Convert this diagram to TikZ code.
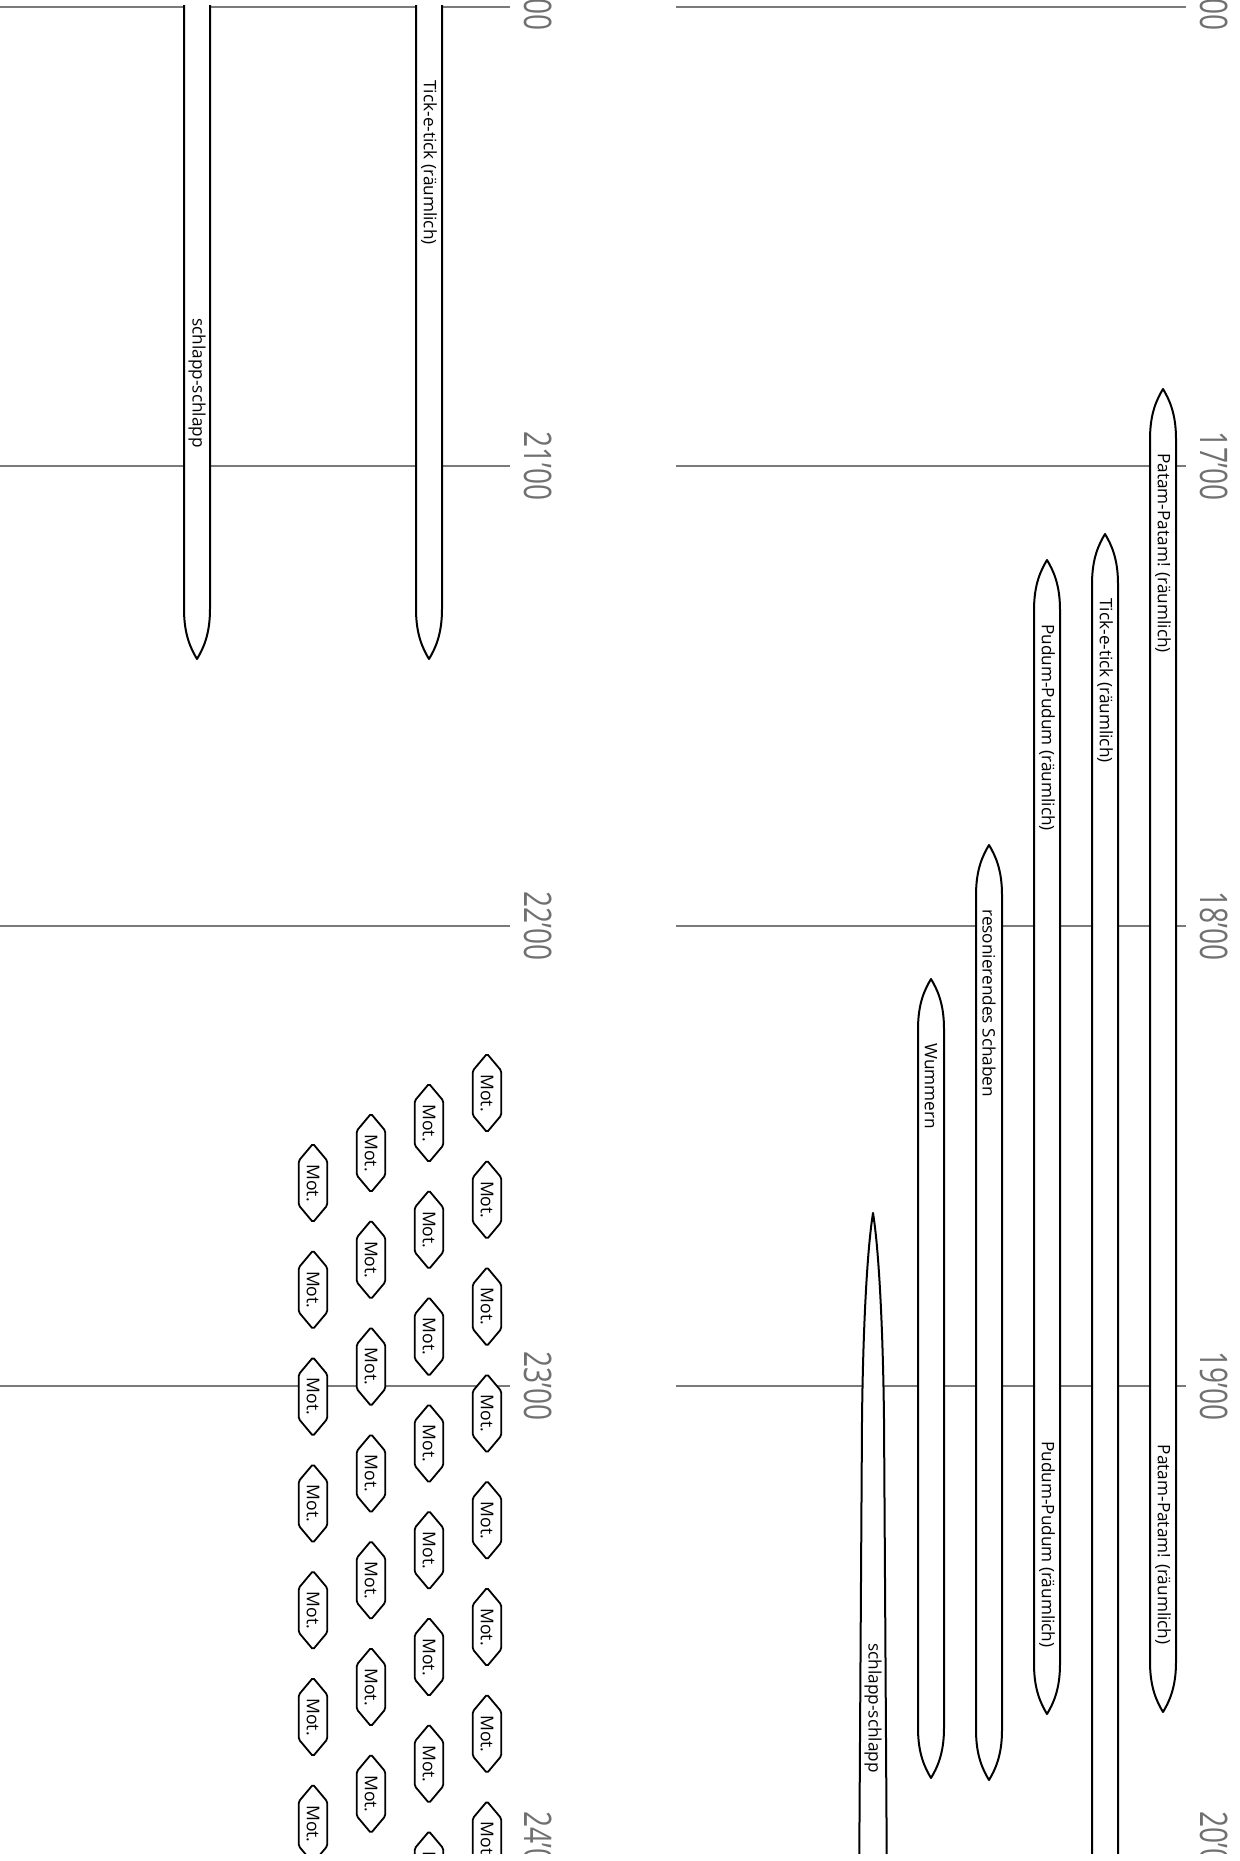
\documentclass[tikz,border=0pt]{standalone}
\usepackage{fontspec}
\setmainfont{Open Sans}
\usetikzlibrary{shapes.symbols}
\definecolor{gridc}{HTML}{7A7A7A}
\definecolor{timec}{HTML}{707070}
\newcommand{\tlab}[1]{\scalebox{0.74}[1]{#1}}
\begin{document}
\begin{tikzpicture}[x=0.5pt,y=-0.5pt,
  grid/.style={draw=gridc, line width=0.7pt},
  stripe/.style={draw=black, fill=white, line width=1pt, line join=round},
  lbl/.style={font=\fontsize{8.6}{10}\selectfont, inner sep=0pt, rotate=-90},
  timelbl/.style={font=\fontsize{19}{21}\selectfont, text=timec, rotate=-90, inner sep=0pt},
  mot/.style={signal, signal to=east and west, signal pointer angle=80, draw=black, fill=white,
    line width=0.9pt, rounded corners=0.8pt, font=\fontsize{8.8}{10}\selectfont,
    inner xsep=1.8pt, inner ysep=3.9pt, rotate=-90}
]
\useasboundingbox (0,0) rectangle (1240,1861);
\begin{scope}
\clip (-5,0) rectangle (1245,1853);
% grid lines
\foreach \yy in {7,466,926,1386} {
  \draw[grid] (0,\yy) -- (510,\yy);
  \draw[grid] (676,\yy) -- (1186,\yy);
}
% time labels
\node[timelbl] (t16) at (1214,-4) {\tlab{16’00}};
\node[timelbl] (t17) at (1214,466) {\tlab{17’00}};
\node[timelbl] (t18) at (1214,926) {\tlab{18’00}};
\node[timelbl] (t19) at (1214,1386) {\tlab{19’00}};
\node[timelbl] (t20) at (1214,1846) {\tlab{20’00}};
\node[timelbl] (t20b) at (538,-4) {\tlab{20’00}};
\node[timelbl] (t21) at (538,466) {\tlab{21’00}};
\node[timelbl] (t22) at (538,926) {\tlab{22’00}};
\node[timelbl] (t23) at (538,1386) {\tlab{23’00}};
\node[timelbl] (t24) at (538,1846) {\tlab{24’00}};
\begin{scope}
\clip (-5,6) rectangle (1245,1853);
% ---------- right panel ----------
% Patam (both tips)
\path[stripe] (1150,439) .. controls (1150,413) and (1157,399) .. (1163,389)
  .. controls (1169,399) and (1176,413) .. (1176,439) -- (1176,1662)
  .. controls (1176,1688) and (1169,1702) .. (1163,1712)
  .. controls (1157,1702) and (1150,1688) .. (1150,1662) -- cycle;
% Tick-e-tick right (open bottom)
\path[stripe] (1092,1900) -- (1092,584) .. controls (1092,558) and (1099,544) .. (1105,534)
  .. controls (1111,544) and (1118,558) .. (1118,584) -- (1118,1900);
% Pudum
\path[stripe] (1034,610) .. controls (1034,584) and (1041,570) .. (1047,560)
  .. controls (1053,570) and (1060,584) .. (1060,610) -- (1060,1664)
  .. controls (1060,1690) and (1053,1704) .. (1047,1714)
  .. controls (1041,1704) and (1034,1690) .. (1034,1664) -- cycle;
% resonierendes Schaben
\path[stripe] (976,895) .. controls (976,869) and (983,855) .. (989,845)
  .. controls (995,855) and (1002,869) .. (1002,895) -- (1002,1730)
  .. controls (1002,1756) and (995,1770) .. (989,1780)
  .. controls (983,1770) and (976,1756) .. (976,1730) -- cycle;
% Wummern
\path[stripe] (918,1029) .. controls (918,1003) and (925,989) .. (931,979)
  .. controls (937,989) and (944,1003) .. (944,1029) -- (944,1728)
  .. controls (944,1754) and (937,1768) .. (931,1778)
  .. controls (925,1768) and (918,1754) .. (918,1728) -- cycle;
% schlapp-schlapp (tapered)
\path[stripe] (859,1900) -- (862,1420) .. controls (863,1330) and (867,1250) .. (873,1213)
  .. controls (879,1250) and (883,1330) .. (884,1420) -- (887,1900);
% ---------- left panel ----------
\path[stripe] (184,-20) -- (184,609) .. controls (184,635) and (191,649) .. (197,659)
  .. controls (203,649) and (210,635) .. (210,609) -- (210,-20);
\path[stripe] (416,-20) -- (416,609) .. controls (416,635) and (423,649) .. (429,659)
  .. controls (435,649) and (442,635) .. (442,609) -- (442,-20);
% Mot. grid
\foreach \k in {0,...,7} {
  \node[mot] (mA\k) at (487,{1093+106.8*\k}) {Mot.};
  \node[mot] (mB\k) at (429,{1123+106.8*\k}) {Mot.};
}
\foreach \k in {0,...,6} {
  \node[mot] (mC\k) at (371,{1153+106.8*\k}) {Mot.};
  \node[mot] (mD\k) at (313,{1183+106.8*\k}) {Mot.};
}
\end{scope}
% stripe labels
\node[lbl, anchor=west] (patamA) at (1163,453) {Patam-Patam! (räumlich)};
\node[lbl, anchor=east] (patamB) at (1163,1645) {Patam-Patam! (räumlich)};
\node[lbl, anchor=west] (tickR) at (1105,598) {Tick-e-tick (räumlich)};
\node[lbl, anchor=west] (pudumA) at (1047,624) {Pudum-Pudum (räumlich)};
\node[lbl, anchor=east] (pudumB) at (1047,1648) {Pudum-Pudum (räumlich)};
\node[lbl, anchor=west] (reso) at (989,909) {resonierendes Schaben};
\node[lbl, anchor=west] (wumm) at (931,1043) {Wummern};
\node[lbl, anchor=west] (schlR) at (873,1643) {schlapp-schlapp};
\node[lbl, anchor=west] (schlL) at (197,318) {schlapp-schlapp};
\node[lbl, anchor=west] (tickL) at (429,80) {Tick-e-tick (räumlich)};
\end{scope}
\end{tikzpicture}
\end{document}
